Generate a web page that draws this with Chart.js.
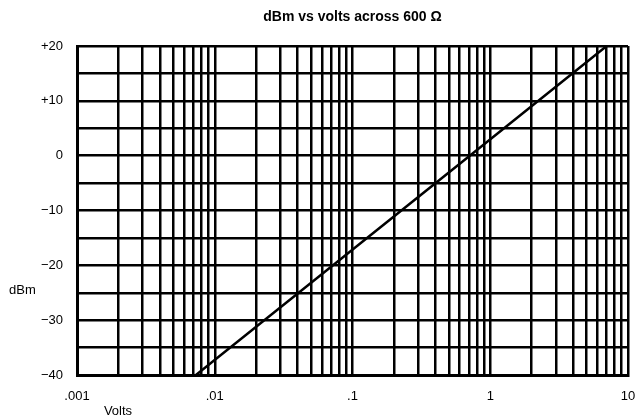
<!DOCTYPE html>
<html>
<head>
<meta charset="utf-8">
<script src="https://cdn.jsdelivr.net/npm/chart.js@4/dist/chart.umd.min.js"></script>
<style>
    html, body { margin: 0; padding: 0; background: #fff; }
    #wrap { width: 636px; height: 420px; }
</style>
</head>
<body>
<div id="wrap"><canvas id="dbmChart" width="636" height="420"></canvas></div>
<script>
// values
const volts = [0.0073, 0.71, 7.0];
const dbm = [-40, 0, 20];

// log grid: 1..9 in every decade from .001 to 10
const xGridValues = [
    0.001, 0.002, 0.003, 0.004, 0.005, 0.006, 0.007, 0.008, 0.009,
    0.01, 0.02, 0.03, 0.04, 0.05, 0.06, 0.07, 0.08, 0.09,
    0.1, 0.2, 0.3, 0.4, 0.5, 0.6, 0.7, 0.8, 0.9,
    1, 2, 3, 4, 5, 6, 7, 8, 9,
    10,
];
const xTickValues = [0.001, 0.01, 0.1, 1, 10];
const xTickLabels = [".001", ".01", ".1", "1", "10"];
const yTickValues = [20, 10, 0, -10, -20, -30, -40];
const yTickLabels = ["+20", "+10", "0", "\u221210", "\u221220", "\u221230", "\u221240"];

const FONT = "'Liberation Sans', Arial, Helvetica, sans-serif";

// the two loose axis captions
const axisCaptions = {
    id: "axisCaptions",
    afterDraw(chart) {
        const ctx = chart.ctx;
        ctx.save();
        ctx.fillStyle = "#000";
        ctx.font = "13px " + FONT;
        ctx.textBaseline = "middle";
        ctx.textAlign = "left";
        ctx.fillText("dBm", 9, 290);
        ctx.textAlign = "center";
        ctx.fillText("Volts", 118, 411);
        ctx.restore();
    },
};

var points = [];
for (let i = 0; i < volts.length; i++) {
    points.push({ x: volts[i], y: dbm[i] });
}

new Chart("dbmChart", {
    type: "line",
    data: {
        datasets: [
            {
                data: points,
                borderColor: "#000",
                borderWidth: 2.5,
                pointRadius: 0,
                tension: 0,
            },
        ],
    },
    options: {
        responsive: false,
        animation: false,
        layout: {
            padding: { left: 0, right: 8, top: 0, bottom: 0 },
        },
        plugins: {
            legend: { display: false },
            tooltip: { enabled: false },
            title: {
                display: true,
                fullSize: false,
                text: "dBm vs volts across 600 \u03A9",
                color: "#000",
                font: { family: FONT, size: 14, weight: "bold" },
                padding: { top: 9, bottom: 20.2 },
            },
        },
        scales: {
            x: {
                type: "logarithmic",
                min: 0.001,
                max: 10,
                afterBuildTicks: (scale) => {
                    scale.ticks = xGridValues.map((v) => ({ value: v }));
                },
                afterFit: (scale) => {
                    scale.height = 45;
                    scale.paddingLeft = 0;
                    scale.paddingRight = 0;
                },
                ticks: {
                    autoSkip: false,
                    maxRotation: 0,
                    minRotation: 0,
                    padding: 14,
                    color: "#000",
                    font: { family: FONT, size: 13 },
                    callback: (value) => {
                        const i = xTickValues.findIndex((t) => Math.abs(t - value) < t * 1e-6);
                        return i >= 0 ? xTickLabels[i] : "";
                    },
                },
                grid: {
                    color: "#000",
                    lineWidth: 2.5,
                    drawTicks: false,
                },
                border: { display: true, color: "#000", width: 3 },
            },
            y: {
                type: "linear",
                min: -40,
                max: 20,
                ticks: {
                    stepSize: 5,
                    padding: 14,
                    color: "#000",
                    font: { family: FONT, size: 13 },
                    callback: (value) => {
                        const i = yTickValues.indexOf(value);
                        return i >= 0 ? yTickLabels[i] : "";
                    },
                },
                afterFit: (scale) => {
                    scale.width = 77;
                    scale.paddingTop = 0;
                    scale.paddingBottom = 0;
                },
                grid: {
                    color: "#000",
                    lineWidth: 2.5,
                    drawTicks: false,
                },
                border: { display: true, color: "#000", width: 3 },
            },
        },
    },
    plugins: [axisCaptions],
});
</script>
</body>
</html>
